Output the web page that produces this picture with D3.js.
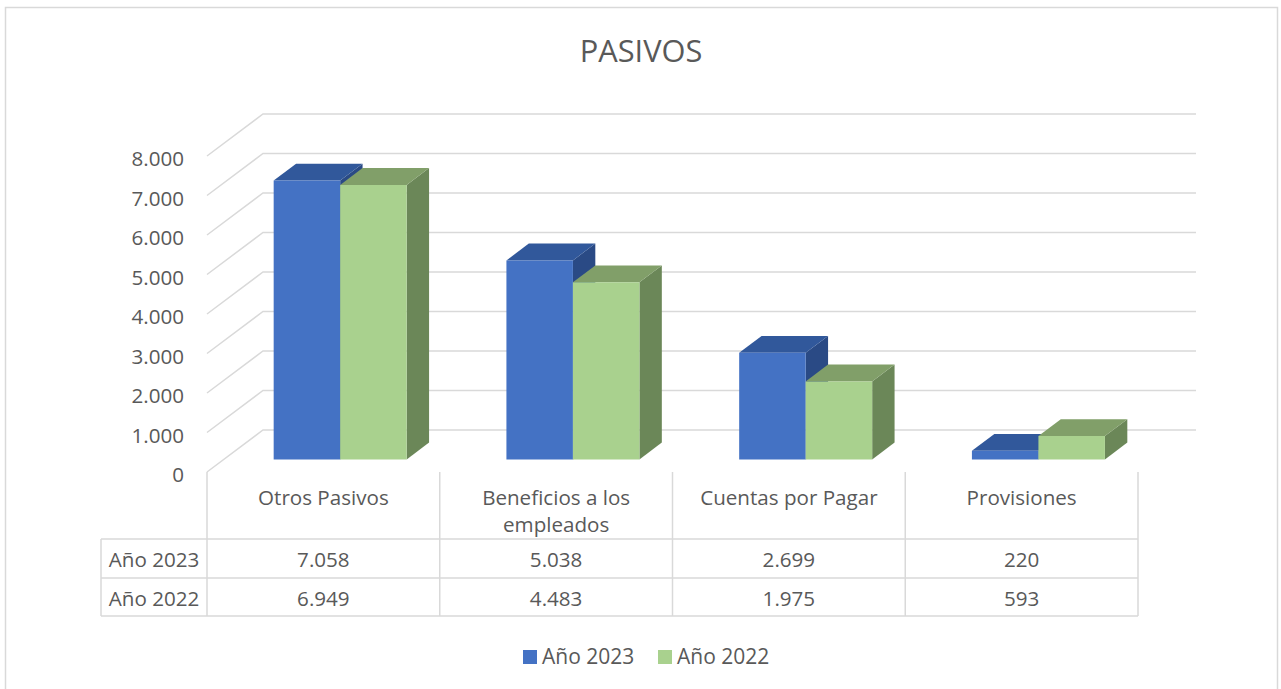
<!DOCTYPE html>
<html>
<head>
<meta charset="utf-8">
<script src="https://cdn.jsdelivr.net/npm/d3@7"></script>
<style>
  body { margin: 0; background: #fff; }
  svg { display: block; font-family: "Open Sans", sans-serif; }
</style>
</head>
<body>
<div class="chart"></div>
<script>
var categories = ["Otros Pasivos", "Beneficios a los empleados", "Cuentas por Pagar", "Provisiones"];
var seriesNames = ["Año 2023", "Año 2022"];
var values2023 = [7058, 5038, 2699, 220];
var values2022 = [6949, 4483, 1975, 593];
var yTicks = [0, 1000, 2000, 3000, 4000, 5000, 6000, 7000, 8000];

var width = 1281, height = 689;
var textColor = "#595959";
var gridColor = "#d9d9d9";
var fontSize = "20.6px";

var faces = {
  "Año 2023": { front: "#4472c4", top: "#31589b", side: "#2a4a85" },
  "Año 2022": { front: "#a9d18e", top: "#819f69", side: "#6b8758" }
};

var locale = d3.formatLocale({ decimal: ",", thousands: ".", grouping: [3], currency: ["", "€"] });
var fmt = locale.format(",.0f");

var svg = d3.select(".chart").append("svg")
  .attr("width", width)
  .attr("height", height);

// outer border
svg.append("rect")
  .attr("x", 5.5).attr("y", 7.5)
  .attr("width", 1272).attr("height", 700)
  .attr("fill", "none")
  .attr("stroke", gridColor)
  .attr("stroke-width", 1.5);

svg.append("text")
  .attr("x", 641).attr("y", 62)
  .attr("text-anchor", "middle")
  .attr("fill", textColor)
  .style("font-size", "30.8px")
  .text("PASIVOS");

// front plane scales, depth goes up-right
var xScale = d3.scaleBand().domain(categories).range([207, 1138]);
var yScale = d3.scaleLinear().domain([0, 8000]).range([472, 156]);
var depthX = 56, depthY = -42;
var f0 = 0.3, f1 = 0.7;

function pt(x, v, f) {
  return [x + depthX * f, yScale(v) + depthY * f];
}

var grid = svg.append("g")
  .attr("stroke", gridColor)
  .attr("stroke-width", 1.5)
  .attr("fill", "none");

yTicks.forEach(function (t) {
  var a = pt(207, t, 0), b = pt(207, t, 1), c = pt(1140, t, 1);
  grid.append("polyline").attr("points", [a, b, c].map(function (p) { return p.join(","); }).join(" "));
});

svg.append("g").selectAll("text")
  .data(yTicks)
  .enter().append("text")
  .attr("x", 184)
  .attr("y", function (d) { return yScale(d) + 2; })
  .attr("text-anchor", "end")
  .attr("dominant-baseline", "central")
  .attr("fill", textColor)
  .style("font-size", fontSize)
  .text(function (d) { return fmt(d); });

var xSub = d3.scaleBand().domain(seriesNames).range([0, xScale.bandwidth()]).paddingOuter(0.75);

var dataRows = seriesNames.map(function (s, i) {
  return { name: s, values: i === 0 ? values2023 : values2022 };
});

function poly(points) {
  return points.map(function (p) { return p.join(","); }).join(" ");
}

var bars = svg.append("g");
categories.forEach(function (cat, ci) {
  dataRows.forEach(function (row) {
    var v = row.values[ci];
    var x0 = xScale(cat) + xSub(row.name);
    var x1 = x0 + xSub.bandwidth();
    var col = faces[row.name];
    bars.append("polygon")
      .attr("points", poly([pt(x1, 0, f0), pt(x1, v, f0), pt(x1, v, f1), pt(x1, 0, f1)]))
      .attr("fill", col.side);
    bars.append("polygon")
      .attr("points", poly([pt(x0, v, f0), pt(x1, v, f0), pt(x1, v, f1), pt(x0, v, f1)]))
      .attr("fill", col.top);
    bars.append("polygon")
      .attr("points", poly([pt(x0, 0, f0), pt(x1, 0, f0), pt(x1, v, f0), pt(x0, v, f0)]))
      .attr("fill", col.front);
  });
});

// data table
var tableLeft = 101, headTop = 472, rowTops = [539, 578, 616];
var tbl = svg.append("g").attr("stroke", gridColor).attr("stroke-width", 1.5);
rowTops.forEach(function (y) {
  tbl.append("line").attr("x1", tableLeft).attr("x2", 1138).attr("y1", y).attr("y2", y);
});
tbl.append("line").attr("x1", tableLeft).attr("x2", tableLeft).attr("y1", rowTops[0]).attr("y2", rowTops[2]);
categories.concat([null]).forEach(function (cat) {
  var x = cat === null ? 1138 : xScale(cat);
  tbl.append("line").attr("x1", x).attr("x2", x).attr("y1", headTop).attr("y2", rowTops[2]);
});

var heads = svg.append("g").selectAll("text")
  .data(categories)
  .enter().append("text")
  .attr("text-anchor", "middle")
  .attr("fill", textColor)
  .style("font-size", fontSize)
  .attr("x", function (d) { return xScale(d) + xScale.bandwidth() / 2; })
  .attr("y", 505);

heads.each(function (d) {
  var el = d3.select(this);
  var words = d.split(" "), line = [];
  var cx = xScale(d) + xScale.bandwidth() / 2;
  var tspan = el.append("tspan").attr("x", cx).attr("dy", 0);
  words.forEach(function (w) {
    line.push(w);
    tspan.text(line.join(" "));
    if (tspan.node().getComputedTextLength() > xScale.bandwidth() - 16 && line.length > 1) {
      line.pop();
      tspan.text(line.join(" "));
      line = [w];
      tspan = el.append("tspan").attr("x", cx).attr("dy", 27).text(w);
    }
  });
});

dataRows.forEach(function (row, ri) {
  var base = rowTops[ri] + 28;
  svg.append("text")
    .attr("x", (tableLeft + xScale.range()[0]) / 2)
    .attr("y", base)
    .attr("text-anchor", "middle")
    .attr("fill", textColor)
    .style("font-size", fontSize)
    .text(row.name);
  svg.append("g").selectAll("text")
    .data(row.values)
    .enter().append("text")
    .attr("x", function (d, i) { return xScale(categories[i]) + xScale.bandwidth() / 2; })
    .attr("y", base)
    .attr("text-anchor", "middle")
    .attr("fill", textColor)
    .style("font-size", fontSize)
    .text(function (d) { return fmt(d); });
});

// legend
var legendX = [523, 658];
var legend = svg.append("g").selectAll("g")
  .data(seriesNames)
  .enter().append("g")
  .attr("transform", function (d, i) { return "translate(" + legendX[i] + ",650)"; });
legend.append("rect")
  .attr("width", 14).attr("height", 14)
  .attr("fill", function (d) { return faces[d].front; });
legend.append("text")
  .attr("x", 19).attr("y", 14)
  .attr("fill", textColor)
  .style("font-size", "21px")
  .text(function (d) { return d; });
</script>
</body>
</html>
